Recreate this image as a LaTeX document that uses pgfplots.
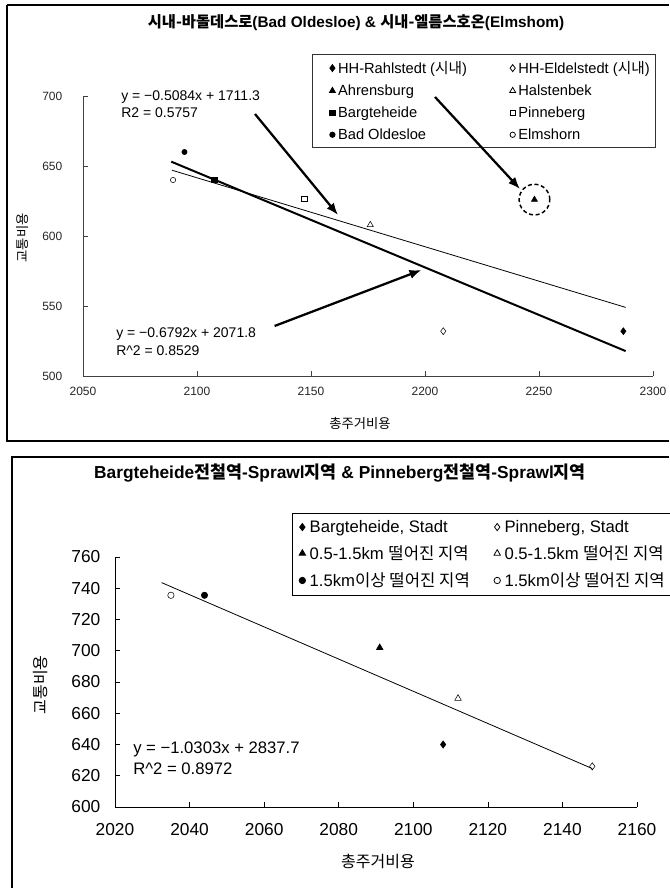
\documentclass[border=0pt]{standalone}
\usepackage{pgfplots}
\pgfplotsset{compat=1.18}
\usepackage{fontspec}
\setmainfont{Liberation Sans}
\newfontfamily\kr{Noto Sans CJK KR}
\usetikzlibrary{arrows.meta}
\pgfplotsset{
  mychart/.style={
    scale only axis, anchor=south west,
    axis x line*=bottom, axis y line*=left,
    xtick align=inside, ytick align=inside,
    major tick length=3.5pt,
    /pgf/number format/assume math mode=true,
    /pgf/number format/1000 sep={},
    legend columns=2,
    legend cell align=left,
  },
  fitline/.style={black, no marks, forget plot},
}
\begin{document}
\begin{tikzpicture}
\useasboundingbox (0,0) rectangle (501.75pt,666pt);
\begin{scope}[x=0.75pt,y=0.75pt]
\draw[line width=1pt] (7,883) -- (7,447) -- (669,447);
\draw[line width=1pt] (669,883) -- (7,883);
\draw[line width=1pt] (12,0) -- (12,431) -- (669,431);
\end{scope}

% ---------------- top chart ----------------
\begin{axis}[mychart,
  at={(62.25pt,384pt)}, width=427.5pt, height=210pt,
  xmin=2050, xmax=2300, ymin=500, ymax=700,
  xtick={2050,2100,...,2300}, ytick={500,550,...,700},
  axis line style={black!75, line width=0.6pt},
  tick style={black!75, line width=0.5pt},
  ticklabel style={font=\fontsize{9}{11}\selectfont, text=black!85},
  yticklabel style={xshift=-12pt},
  xticklabel style={yshift=-5pt},
  legend image code/.code={\path[draw=none,fill=none] (0pt,0pt) (14.5pt,0pt); \draw[#1] plot coordinates {(13pt,0pt)};},
  legend style={at={(axis description cs:0.4018,1.15)}, anchor=north west,
    draw=black!80, line width=0.6pt, font=\fontsize{11}{13}\selectfont,
    row sep=3pt, inner xsep=2pt, inner ysep=3pt,
    /tikz/column 2/.style={column sep=19.3pt}},
]
\addplot[only marks, mark=diamond*, mark size=2.6pt, black] coordinates {(2287,532)};
\addlegendentry{HH-Rahlstedt ({\kr 시내})}
\addplot[only marks, mark=diamond, mark size=2.6pt, black, mark options={fill=white}] coordinates {(2208,532)};
\addlegendentry{HH-Eldelstedt ({\kr 시내})}
\addplot[only marks, mark=triangle*, mark size=2.6pt, black] coordinates {(2248,626)};
\addlegendentry{Ahrensburg}
\addplot[only marks, mark=triangle, mark size=2.6pt, black, mark options={fill=white}] coordinates {(2176,608)};
\addlegendentry{Halstenbek}
\addplot[only marks, mark=square*, mark size=2pt, black] coordinates {(2107.5,640)};
\addlegendentry{Bargteheide}
\addplot[only marks, mark=square, mark size=2pt, black, mark options={fill=white}] coordinates {(2147,626.5)};
\addlegendentry{Pinneberg}
\addplot[only marks, mark=*, mark size=2pt, black] coordinates {(2094.5,660)};
\addlegendentry{Bad Oldesloe}
\addplot[only marks, mark=o, mark size=2pt, black, mark options={fill=white}] coordinates {(2089.5,640)};
\addlegendentry{Elmshorn}
\addplot[fitline, line width=1.5pt] coordinates {(2088.7,653.1) (2288,517.8)};
\addplot[fitline, line width=0.6pt] coordinates {(2089,647) (2288,549)};
\draw[dashed, line width=1.1pt, dash pattern=on 3pt off 2pt] (axis cs:2248,626) circle[radius=11.5pt];
\end{axis}

% ---------------- bottom chart ----------------
\begin{axis}[mychart,
  at={(86.25pt,60.75pt)}, width=391.5pt, height=187.5pt,
  xmin=2020, xmax=2160, ymin=600, ymax=760,
  xtick={2020,2040,...,2160}, ytick={600,620,...,760},
  axis line style={black, line width=0.7pt},
  tick style={black, line width=0.5pt},
  ticklabel style={font=\fontsize{13}{15}\selectfont},
  yticklabel style={xshift=-7.5pt},
  xticklabel style={yshift=-9pt},
  legend image code/.code={\path[draw=none,fill=none] (0pt,0pt) (9pt,0pt); \draw[#1] plot coordinates {(5.5pt,0pt)};},
  legend style={at={(axis description cs:0.339,1.176)}, anchor=north west,
    draw=black, line width=0.6pt, font=\fontsize{12.5}{14}\selectfont,
    row sep=4.5pt, inner xsep=2pt, inner ysep=3pt,
    /tikz/column 2/.style={column sep=13pt}},
]
\addplot[only marks, mark=diamond*, mark size=2.7pt, black] coordinates {(2108,640)};
\addlegendentry{Bargteheide, Stadt}
\addplot[only marks, mark=diamond, mark size=2.7pt, black, mark options={fill=white}] coordinates {(2148,626)};
\addlegendentry{Pinneberg, Stadt}
\addplot[only marks, mark=triangle*, mark size=2.8pt, black] coordinates {(2091,702)};
\addlegendentry{0.5-1.5km {\kr 떨어진 지역}}
\addplot[only marks, mark=triangle, mark size=2.8pt, black, mark options={fill=white}] coordinates {(2112,669.5)};
\addlegendentry{0.5-1.5km {\kr 떨어진 지역}}
\addplot[only marks, mark=*, mark size=2.4pt, black] coordinates {(2044,735.5)};
\addlegendentry{1.5km{\kr 이상 떨어진 지역}}
\addplot[only marks, mark=o, mark size=2.4pt, black, mark options={fill=white}] coordinates {(2035,735.5)};
\addlegendentry{1.5km{\kr 이상 떨어진 지역}}
\addplot[fitline, line width=0.6pt] coordinates {(2032.5,743.6) (2148,624.6)};
\end{axis}

% ---------------- texts and arrows (pixel grid) ----------------
\begin{scope}[x=0.75pt,y=0.75pt]
\node[font=\bfseries\fontsize{11.5}{13}\selectfont] at (356,865) {{\kr 시내-바돌데스로}(Bad Oldesloe) \& {\kr 시내-엘름스호온}(Elmshom)};
\node[font=\bfseries\fontsize{13}{15}\selectfont] at (340,415) {Bargteheide{\kr 전철역}-Sprawl{\kr 지역} \& Pinneberg{\kr 전철역}-Sprawl{\kr 지역}};
\node[rotate=90, font=\kr\fontsize{10}{12}\selectfont] at (22.5,650) {교통비용};
\node[font=\kr\fontsize{10}{12}\selectfont] at (360,464) {총주거비용};
\node[rotate=90, font=\kr\fontsize{12}{14}\selectfont] at (41,203) {교통비용};
\node[font=\kr\fontsize{12}{14}\selectfont] at (378,27) {총주거비용};
\node[anchor=base west, inner sep=0pt, font=\fontsize{10.5}{12}\selectfont] at (121,787.5) {y = −0.5084x + 1711.3};
\node[anchor=base west, inner sep=0pt, font=\fontsize{10.5}{12}\selectfont] at (121,770) {R2 = 0.5757};
\node[anchor=base west, inner sep=0pt, font=\fontsize{10.5}{12}\selectfont] at (116,550) {y = −0.6792x + 2071.8};
\node[anchor=base west, inner sep=0pt, font=\fontsize{10.5}{12}\selectfont] at (116,532) {R\^{}2 = 0.8529};
\node[anchor=base west, inner sep=0pt, font=\fontsize{12.5}{14}\selectfont] at (133,134) {y = −1.0303x + 2837.7};
\node[anchor=base west, inner sep=0pt, font=\fontsize{12.5}{14}\selectfont] at (133,113) {R\^{}2 = 0.8972};
\draw[line width=1.7pt, -{Latex[length=9pt,width=7pt]}] (255,774) -- (338,673);
\draw[line width=1.7pt, -{Latex[length=9pt,width=7pt]}] (435,791) -- (520,699);
\draw[line width=1.7pt, -{Latex[length=9pt,width=7pt]}] (274.6,562) -- (421.5,618);
\end{scope}
\end{tikzpicture}
\end{document}
